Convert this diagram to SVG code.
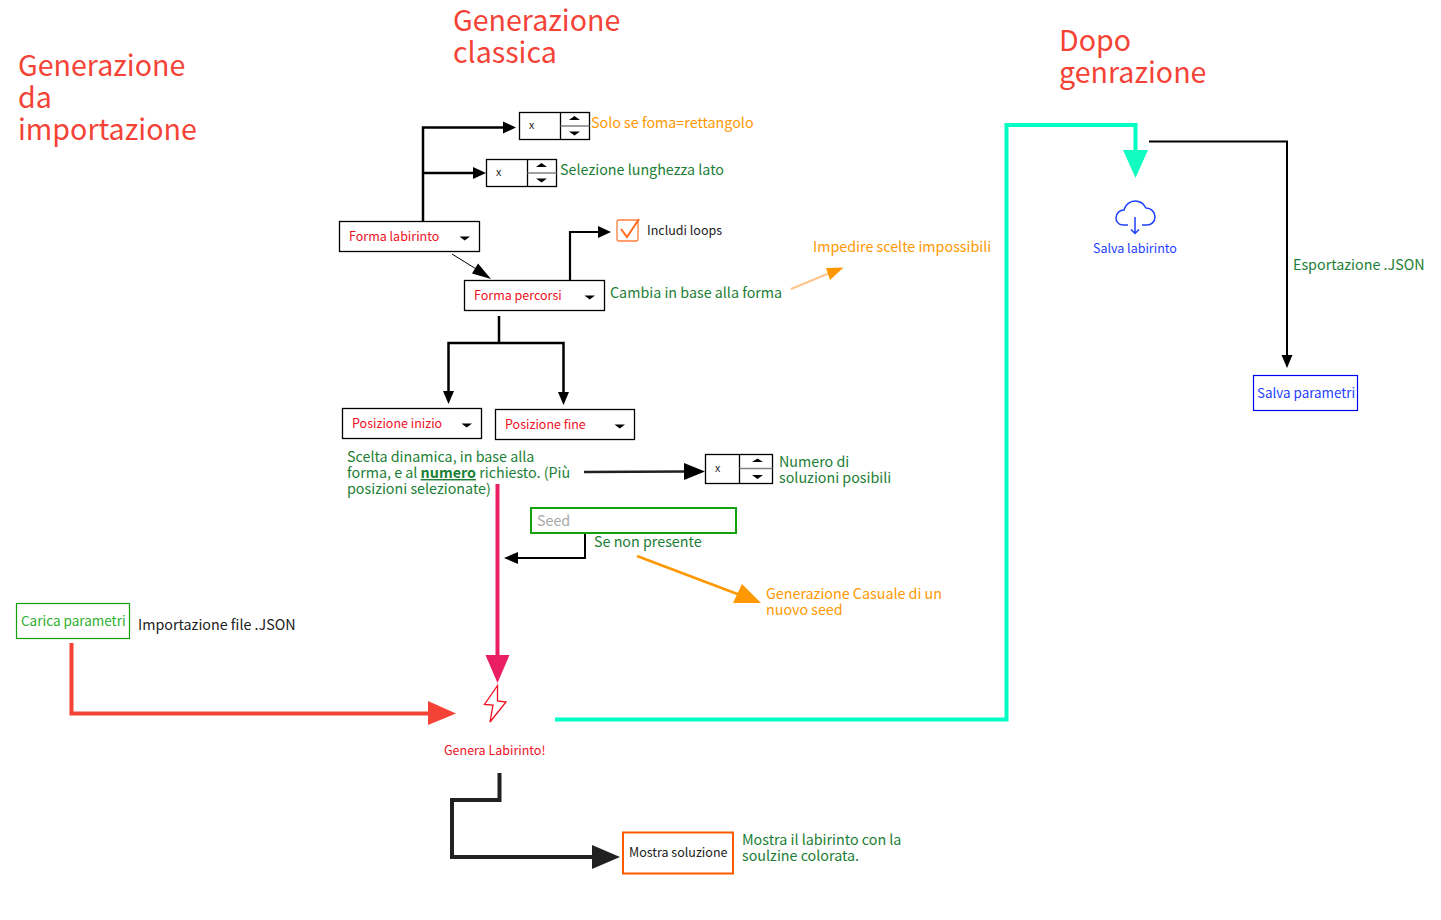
<svg xmlns="http://www.w3.org/2000/svg" width="1441" height="920" viewBox="0 0 1441 920">
<style>
text{font-family:"Noto Sans CJK SC","Noto Sans",sans-serif;white-space:pre}
.t{font-size:28.6px;fill:#f44336}
.g{font-size:14.3px;fill:#1b7e35}
.o{font-size:14.3px;fill:#ff9800}
.r{font-size:12.5px;fill:#f00f1e}
.k{font-size:12.5px;fill:#212121}
.x{font-size:10.7px;fill:#212121}
.box{fill:#fff;stroke:#000;stroke-width:1.300}
.c{fill:none;stroke-linejoin:miter}
.d{fill:#000}
</style>
<g id="titles">
<text class="t" x="18" y="76">Generazione</text><text class="t" x="18" y="108">da</text><text class="t" x="18" y="140">importazione</text>
<text class="t" x="453" y="31">Generazione</text><text class="t" x="453" y="63">classica</text>
<text class="t" x="1059" y="51">Dopo</text><text class="t" x="1059" y="83">genrazione</text>
</g>
<g id="connectors">
<path class="c" d="M423 221V127.500H505" stroke="#000" stroke-width="2.500"/><path d="M516 127.500L503 121.500V133.500Z"/>
<path class="c" d="M423 173H476" stroke="#000" stroke-width="2.500"/><path d="M486 173L473 167V179Z"/>
<path class="c" d="M452 254L481 272" stroke="#000" stroke-width="1"/><path d="M491 279L478 263.500L472 273.500Z"/>
<path class="c" d="M570 281V232H601" stroke="#000" stroke-width="2.200"/><path d="M611 232L598 226V238Z"/>
<path class="c" d="M791 289L832 272" stroke="#ffc58a" stroke-width="2"/><path d="M843.500 267.500L826 268L830 280Z" fill="#ff9800"/>
<path class="c" d="M499 316V343M448.500 394V343H563.500V394" stroke="#000" stroke-width="2.500"/><path d="M448.500 404L443 391H454Z"/><path d="M563.500 405L558 392H569Z"/>
<path class="c" d="M584 472L686 471.500" stroke="#212121" stroke-width="2.500"/><path d="M705 471.500L684 463V480Z"/>
<path class="c" d="M585 533V558H515" stroke="#000" stroke-width="2"/><path d="M504 558L518 552V564Z"/>
<path class="c" d="M637 556L740 595" stroke="#ff9800" stroke-width="2.500"/><path d="M761 603L742 584L733 603Z" fill="#ff9800"/>
<path class="c" d="M497.500 484V660" stroke="#e91e63" stroke-width="4"/><path d="M497.500 683L485.500 655H509.500Z" fill="#e91e63"/>
<path class="c" d="M71.500 643V713.500H432" stroke="#f44336" stroke-width="4"/><path d="M456 713.500L428 701V725Z" fill="#f44336"/>
<path class="c" d="M555 719.500H1006.500V125H1135.500V155" stroke="#00ffc3" stroke-width="4"/><path d="M1135.500 178L1123 150H1148Z" fill="#12fcc2"/>
<path class="c" d="M1149 141.500H1287V357" stroke="#000" stroke-width="2"/><path d="M1287 368L1281.500 355H1292.500Z"/>
<path class="c" d="M499.500 773V800H452V857H596" stroke="#212121" stroke-width="4"/><path d="M620 857L592 845V869Z" fill="#212121"/>
</g>
<g id="forma-labirinto"><rect class="box" x="339.500" y="221.500" width="140" height="30"/><text class="r" x="349" y="241">Forma labirinto</text><path class="d" d="M459.500 236.500H470L464.700 240.500Z"/></g>
<g id="forma-percorsi"><rect class="box" x="464.500" y="280.500" width="140" height="30"/><text class="r" x="474" y="300">Forma percorsi</text><path class="d" d="M584.500 295.500H595L589.700 299.500Z"/></g>
<g id="posizione-inizio"><rect class="box" x="342.500" y="408.500" width="139" height="30"/><text class="r" x="352" y="428">Posizione inizio</text><path class="d" d="M461.500 423.500H472L466.700 427.500Z"/></g>
<g id="posizione-fine"><rect class="box" x="495.500" y="409.500" width="139" height="30"/><text class="r" x="505" y="429">Posizione fine</text><path class="d" d="M614.500 424.500H625L619.700 428.500Z"/></g>
<g id="spin-rettangolo"><rect class="box" x="519.500" y="112.500" width="70" height="27"/><path d="M560.500 112.500V139.500" stroke="#000" stroke-width="1.300"/><path d="M560.500 126H589.500" stroke="#808080" stroke-width="1.500"/><path class="d" d="M569 120L574.500 116L580 120Z"/><path class="d" d="M569 131.500L574.500 135.500L580 131.500Z"/><text class="x" x="529" y="129">x</text></g>
<g id="spin-lato"><rect class="box" x="486.500" y="159.500" width="70" height="27"/><path d="M527.500 159.500V186.500" stroke="#000" stroke-width="1.300"/><path d="M527.500 173H556.500" stroke="#808080" stroke-width="1.500"/><path class="d" d="M536 167L541.500 163L547 167Z"/><path class="d" d="M536 178.500L541.500 182.500L547 178.500Z"/><text class="x" x="496" y="176">x</text></g>
<g id="spin-soluzioni"><rect class="box" x="705.500" y="454.500" width="67" height="29"/><path d="M739.500 454.500V483.500" stroke="#000" stroke-width="1.300"/><path d="M739.500 468.500H772.500" stroke="#808080" stroke-width="1.500"/><path class="d" d="M752 462L757.500 458.500L763 462Z"/><path class="d" d="M752 475L757.500 479L763 475Z"/><text class="x" x="715" y="472">x</text></g>
<g id="labels-classic">
<text class="o" x="591" y="128">Solo se foma=rettangolo</text>
<text class="g" x="560" y="175">Selezione lunghezza lato</text>
<text class="g" x="610" y="298">Cambia in base alla forma</text>
<text class="o" x="813" y="252">Impedire scelte impossibili</text>
<text class="g" x="347" y="462">Scelta dinamica, in base alla</text>
<text class="g" x="347" y="478">forma, e al <tspan font-weight="700" text-decoration="underline">numero</tspan> richiesto. (Più</text>
<text class="g" x="347" y="494">posizioni selezionate)</text>
<text class="g" x="779" y="467">Numero di</text><text class="g" x="779" y="483">soluzioni posibili</text>
<text class="g" x="594" y="547">Se non presente</text>
<text class="o" x="766" y="599">Generazione Casuale di un</text><text class="o" x="766" y="615">nuovo seed</text>
<text class="g" x="742" y="845">Mostra il labirinto con la</text><text class="g" x="742" y="861">soulzine colorata.</text>
<text class="g" x="1293" y="270">Esportazione .JSON</text>
<text x="138" y="630" font-size="14.300" fill="#212121">Importazione file .JSON</text>
</g>
<g id="loops"><rect x="617" y="220" width="21" height="21" rx="2" fill="#fff" stroke="#ff7f3f" stroke-width="1.300"/><path d="M621 229L627 237L639 219" fill="none" stroke="#ff6a1a" stroke-width="2"/><text class="k" x="647" y="235">Includi loops</text></g>
<g id="seed"><rect x="531" y="508" width="205" height="25" fill="#fff" stroke="#13a10e" stroke-width="2"/><text x="537" y="526" font-size="14.300" fill="#a8a8a8">Seed</text></g>
<g id="carica-parametri"><rect x="16.500" y="603.500" width="113" height="35" fill="#fff" stroke="#13a10e" stroke-width="1.200"/><text x="21" y="626" font-size="13.500" fill="#2bb02b">Carica parametri</text></g>
<g id="genera"><path d="M497.500 685.500L484.500 704.500L493 705L490 722L506 702L497.500 701Z" fill="#fff" stroke="#f00f1e" stroke-width="1.300"/><text class="r" x="444" y="755">Genera Labirinto!</text></g>
<g id="mostra-soluzione"><rect x="623" y="832.500" width="110" height="41" fill="#fff" stroke="#ff5a00" stroke-width="2"/><text class="k" x="629" y="857">Mostra soluzione</text></g>
<g id="salva-labirinto"><path d="M1128 225H1123C1118 225 1116 221 1116 218C1116 213 1120 210 1124 210C1125 205 1130 201 1135 201C1140 201 1144 204 1146 208C1151 208 1155 212 1155 217C1155 222 1151 225 1147 225H1142" fill="none" stroke="#1e40ff" stroke-width="1.500"/><path d="M1135 217V233M1131 229.500L1135 233.500L1139 229.500" fill="none" stroke="#1e40ff" stroke-width="1.500"/><text x="1093" y="253" font-size="12.500" fill="#1e40ff">Salva labirinto</text></g>
<g id="salva-parametri"><rect x="1253.500" y="375.500" width="104" height="35" fill="#fff" stroke="#0000ee" stroke-width="1.200"/><text x="1257" y="398" font-size="13.400" fill="#1e40ff">Salva parametri</text></g>
</svg>
